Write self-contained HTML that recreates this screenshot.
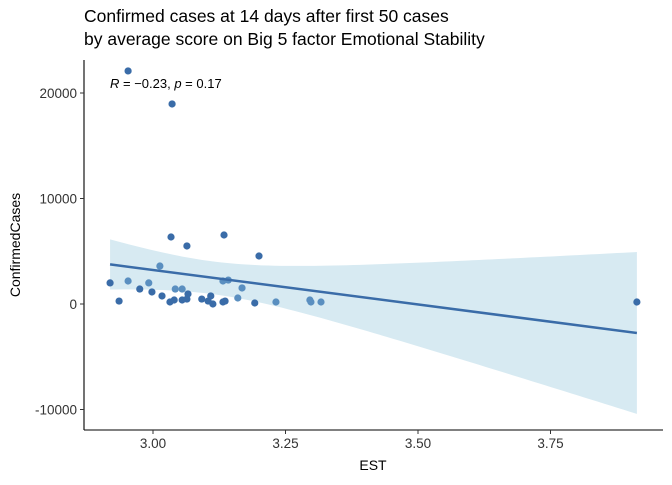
<!DOCTYPE html>
<html><head><meta charset="utf-8"><style>
body{margin:0;background:#fff}
svg text{font-family:"Liberation Sans",sans-serif}
</style></head><body>
<svg id="chart" width="672" height="480">
<text x="84" y="22" font-size="17.5" fill="#000">Confirmed cases at 14 days after first 50 cases</text>
<text x="84" y="45" font-size="17.5" fill="#000">by average score on Big 5 factor Emotional Stability</text>
<g id="ribbon"></g><g id="grid"></g><g id="pts"></g>
<text x="110" y="88" font-size="13"><tspan font-style="italic">R</tspan> = −0.23, <tspan font-style="italic">p</tspan> = 0.17</text>
<text x="373" y="470" font-size="14" text-anchor="middle">EST</text>
<text transform="translate(20,245) rotate(-90)" font-size="14" text-anchor="middle">ConfirmedCases</text>
</svg>
<script>
const estValues=[2.953,3.036,3.913,3.034,3.064,3.134,3.200,3.013,2.919,2.953,2.992,2.975,2.998,2.936,3.017,3.032,3.040,3.042,3.055,3.055,3.064,3.066,3.092,3.104,3.109,3.113,3.132,3.136,3.132,3.142,3.168,3.160,3.192,3.232,3.296,3.298,3.317];
const caseValues=[22090,18960,190,6350,5500,6540,4550,3600,2000,2180,2000,1420,1140,280,760,190,380,1420,1420,380,470,950,470,280,760,0,190,280,2180,2270,1520,570,95,190,380,190,190];
const shadeGroup=[0,0,0,0,0,0,0,1,0,1,1,0,0,0,0,0,0,1,1,0,0,0,0,0,0,0,0,0,1,1,1,1,0,1,1,1,1];
const xTicks=[3.00,3.25,3.50,3.75];
const xTickLabels=["3.00","3.25","3.50","3.75"];
const yTicks=[-10000,0,10000,20000];
const yTickLabels=["-10000","0","10000","20000"];
const NS="http://www.w3.org/2000/svg";
const X=v=>153+(v-3)*530, Y=v=>304-v*0.01055;
const svg=document.getElementById('chart');
function mk(t,a,p){const e=document.createElementNS(NS,t);for(const k in a)e.setAttribute(k,a[k]);(p||svg).appendChild(e);return e;}
// regression
const n=estValues.length;const mx=estValues.reduce((a,b)=>a+b)/n, my=caseValues.reduce((a,b)=>a+b)/n;
let sxx=0,sxy=0;for(let i=0;i<n;i++){sxx+=(estValues[i]-mx)**2;sxy+=(estValues[i]-mx)*(caseValues[i]-my);}
const b=sxy/sxx,a=my-b*mx;let sse=0;for(let i=0;i<n;i++)sse+=(caseValues[i]-a-b*estValues[i])**2;
const s=Math.sqrt(sse/(n-2)),t=2.03;
const xmin=Math.min(...estValues),xmax=Math.max(...estValues);
let up=[],lo=[];for(let k=0;k<=80;k++){const x=xmin+(xmax-xmin)*k/80;const f=a+b*x;const se=s*Math.sqrt(1/n+(x-mx)**2/sxx);up.push(X(x)+','+Y(f+t*se));lo.unshift(X(x)+','+Y(f-t*se));}
const rg=document.getElementById('ribbon');
const rib=mk('polygon',{points:up.concat(lo).join(' '),fill:'#d7eaf2'},rg);


// axes
const g=document.getElementById('grid');
const ax=mk('line',{x1:84,y1:60,x2:84,y2:430,stroke:'#000','stroke-width':1.1},g);


const bx=mk('line',{x1:84,y1:430,x2:663,y2:430,stroke:'#000','stroke-width':1.1},g);


xTicks.forEach((v,i)=>{mk('line',{x1:X(v),x2:X(v),y1:430,y2:434,stroke:'#333'},g);
const tx=mk('text',{x:X(v),y:448,'font-size':13.5,'text-anchor':'middle',fill:'#333'},g);tx.textContent=xTickLabels[i];

});
yTicks.forEach((v,i)=>{mk('line',{x1:80,x2:84,y1:Y(v),y2:Y(v),stroke:'#333'},g);
const tx=mk('text',{x:77,y:Y(v)+5,'font-size':13.5,'text-anchor':'end',fill:'#333'},g);tx.textContent=yTickLabels[i];

});
// points
const pg=document.getElementById('pts');
for(let i=0;i<n;i++){const c=mk('circle',{cx:X(estValues[i]),cy:Y(caseValues[i]),r:3.6,fill:shadeGroup[i]?'#5a8fc0':'#3a6ca8'},pg);

}
const ln=mk('line',{x1:X(xmin),y1:Y(a+b*xmin),x2:X(xmax),y2:Y(a+b*xmax),stroke:'#3a6ca8','stroke-width':2.5},pg);


</script>
</body></html>
